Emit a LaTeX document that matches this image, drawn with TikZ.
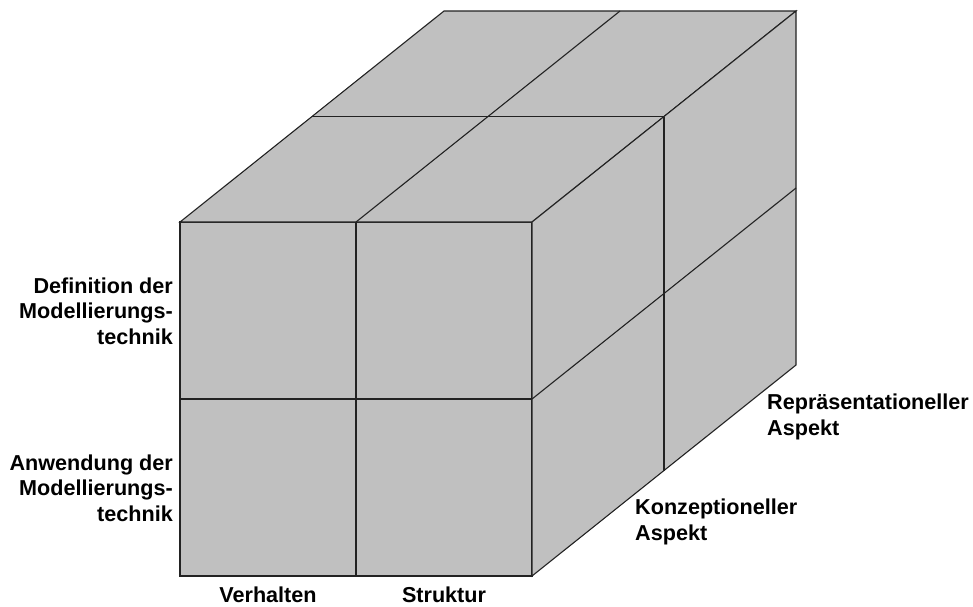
\documentclass[tikz,border=0pt]{standalone}
\usepackage{fontspec}
\setmainfont{Liberation Sans}
\begin{document}
\begin{tikzpicture}[x=1pt,y=-1pt,
  face/.style={fill=cubegray,draw=edgecol,line width=1.1pt,line join=miter},
  edge/.style={draw=edgecol,line width=1.1pt},
  lbl/.style={inner sep=0pt,font=\fontsize{21.6}{25.5}\selectfont\bfseries}]
\definecolor{cubegray}{HTML}{C0C0C0}
\definecolor{edgecol}{HTML}{222222}
\useasboundingbox (0,0) rectangle (973,606);
% corners
\coordinate (FTL) at (180,222);
\coordinate (FTR) at (532,222);
\coordinate (FBL) at (180,576);
\coordinate (FBR) at (532,576);
\coordinate (BTL) at (444,11);
\coordinate (BTR) at (796,11);
\coordinate (BBR) at (796,365);
% front face
\path[face] (FTL) -- (FTR) -- (FBR) -- (FBL) -- cycle;
% top face
\path[face] (FTL) -- (BTL) -- (BTR) -- (FTR) -- cycle;
% right face
\path[face] (FTR) -- (BTR) -- (BBR) -- (FBR) -- cycle;
% front grid
\coordinate (FTM) at (356,222);
\coordinate (FBM) at (356,576);
\coordinate (FML) at (180,399);
\coordinate (FMR) at (532,399);
\draw[edge] (FTM) -- (FBM);
\draw[edge] (FML) -- (FMR);
% top grid
\coordinate (BTM) at (620,11);
\coordinate (TML) at (312,116.5);
\coordinate (TMR) at (664,116.5);
\draw[edge] (FTM) -- (BTM);
\draw[edge] (TML) -- (TMR);
% right grid
\coordinate (BMR) at (796,188);
\coordinate (RBM) at (664,470.5);
\draw[edge] (FMR) -- (BMR);
\draw[edge] (TMR) -- (RBM);
% labels
\node[lbl,anchor=east,align=right] (def) at (173,311) {Definition der\\Modellierungs-\\technik};
\node[lbl,anchor=east,align=right] (anw) at (173,488) {Anwendung der\\Modellierungs-\\technik};
\node[lbl] (verh) at (268,595) {Verhalten};
\node[lbl] (strk) at (444,595) {Struktur};
\node[lbl,anchor=west,align=left] (konz) at (635,522) {Konzeptioneller\\Aspekt};
\node[lbl,anchor=west,align=left] (repr) at (767,417) {Repräsentationeller\\Aspekt};
\end{tikzpicture}
\end{document}
